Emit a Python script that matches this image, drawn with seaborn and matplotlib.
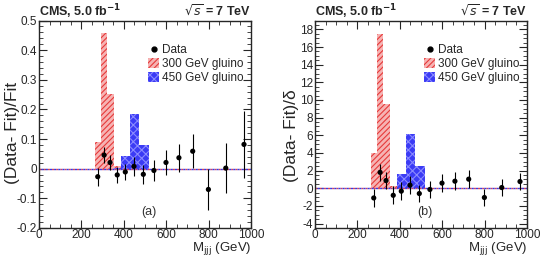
import numpy as np
import matplotlib
matplotlib.use('Agg')
import matplotlib.pyplot as plt
import seaborn as sns
from matplotlib.patches import Patch
from matplotlib.lines import Line2D
from matplotlib.ticker import MultipleLocator, FormatStrFormatter

# bin edges of the three-jet mass spectrum (GeV)
bin_edges = [262, 292, 321, 352, 388, 427, 470, 517, 570, 630, 692, 762, 840, 924, 1010]
data_x = [277, 307, 335, 369, 407, 448, 492, 542, 599, 660, 725, 799, 881, 967]

# panel (a): (Data - Fit)/Fit
data_a = [-0.027, 0.046, 0.021, -0.021, -0.011, 0.008, -0.019, -0.006, 0.021, 0.037, 0.059, -0.070, 0.002, 0.082]
err_a = [0.031, 0.027, 0.025, 0.027, 0.028, 0.031, 0.032, 0.035, 0.041, 0.047, 0.058, 0.068, 0.084, 0.112]
red_a = [0.090, 0.459, 0.253, 0.010, 0.003, 0.0, 0, 0, 0, 0, 0, 0, 0, 0]
blue_a = [0, 0, 0, 0.002, 0.044, 0.186, 0.081, 0.0, 0, 0, 0, 0, 0, 0]

# panel (b): (Data - Fit)/delta
data_b = [-1.1, 1.8, 0.87, -0.8, -0.33, 0.35, -0.6, -0.14, 0.58, 0.8, 1.03, -1.05, 0.08, 0.76]
err_b = [1.0] * 14
red_b = [3.94, 17.5, 9.5, 0.3, 0.1, 0, 0, 0, 0, 0, 0, 0, 0, 0]
blue_b = [0, 0, 0, 0.05, 1.6, 6.2, 2.54, 0.0, 0, 0, 0, 0, 0, 0]

sns.set_style('ticks')
plt.rcParams['font.family'] = ['Liberation Sans', 'DejaVu Sans']
plt.rcParams['hatch.linewidth'] = 0.8

RED_FACE, RED_HATCH = '#f6b3b3', '#e63a3a'
BLUE_FACE, BLUE_HATCH = '#3b3bf5', '#8a8aff'

fig = plt.figure(figsize=(5.52, 2.57), dpi=100)
ax_a = fig.add_axes([0.0707, 0.113, 0.384, 0.807])
ax_b = fig.add_axes([0.5707, 0.113, 0.384, 0.807])

panels = [
    (ax_a, data_a, err_a, red_a, blue_a, (-0.2, 0.5), 0.1, 0.02, '(Data- Fit)/Fit', '(a)', (-0.125, 0.46)),
    (ax_b, data_b, err_b, red_b, blue_b, (-4.5, 19), 2, 0.5, '(Data- Fit)/\u03b4', '(b)', (-0.111, 0.445)),
]

centers = [(bin_edges[i] + bin_edges[i + 1]) / 2 for i in range(len(bin_edges) - 1)]

for ax, dat, err, red, blue, ylim, major, minor, ylab, tag, ylab_pos in panels:
    sns.histplot(x=centers, weights=red, bins=bin_edges, ax=ax, element='bars',
                 facecolor=RED_FACE, edgecolor=RED_HATCH, hatch='//////', linewidth=0,
                 alpha=1)
    sns.histplot(x=centers, weights=blue, bins=bin_edges, ax=ax, element='bars',
                 facecolor=BLUE_FACE, edgecolor=BLUE_HATCH, hatch='xxxx', linewidth=0,
                 alpha=1)
    ax.axhline(0, color='#d04060', ls=(0, (1.5, 1.5)), lw=1.0)
    ax.axhline(0, color='#3a3ae0', ls=(1.5, (1.5, 1.5)), lw=1.0)
    ax.errorbar(data_x, dat, yerr=err, fmt='none', ecolor='black', elinewidth=0.8, capsize=0)
    sns.scatterplot(x=data_x, y=dat, ax=ax, color='black', s=14, edgecolor='none', zorder=5)

    ax.set_xlim(0, 1000)
    ax.set_ylim(*ylim)
    ax.xaxis.set_major_locator(MultipleLocator(200))
    ax.xaxis.set_minor_locator(MultipleLocator(50))
    ax.yaxis.set_major_locator(MultipleLocator(major))
    ax.yaxis.set_minor_locator(MultipleLocator(minor))
    ax.yaxis.set_major_formatter(FormatStrFormatter('%g'))
    ax.tick_params(which='both', direction='in', top=True, right=True, labelsize=8.5)
    ax.tick_params(axis='x', pad=0.8)
    ax.tick_params(axis='y', pad=1.5)
    ax.tick_params(which='major', length=6, width=0.8)
    ax.tick_params(which='minor', length=3, width=0.6)
    for s in ax.spines.values():
        s.set_linewidth(1.0)
    ax.set_ylabel(ylab, fontsize=12.5)
    ax.yaxis.set_label_coords(*ylab_pos)
    ax.yaxis.label.set_verticalalignment('center')
    ax.set_xlabel(r'M$_{\rm jjj}$ (GeV)', fontsize=9.5)
    ax.xaxis.set_label_coords(1.0, -0.113)
    ax.xaxis.label.set_horizontalalignment('right')
    ax.xaxis.label.set_verticalalignment('baseline')
    ax.text(0.52, 0.078, tag, transform=ax.transAxes, ha='center', va='center', fontsize=9,
            color='#333333')
    ax.text(0.0, 1.022, r'CMS, 5.0 fb$^{\mathbf{-1}}$', transform=ax.transAxes, ha='left',
            va='baseline', fontsize=9, fontweight='bold')
    ax.text(1.0, 1.022, r'$\sqrt{s}$ = 7 TeV', transform=ax.transAxes, ha='right',
            va='baseline', fontsize=9, fontweight='bold')

    handles = [
        Line2D([], [], marker='o', color='black', ls='none', markersize=3.5),
        Patch(facecolor=RED_FACE, edgecolor=RED_HATCH, hatch='//////', linewidth=0),
        Patch(facecolor=BLUE_FACE, edgecolor=BLUE_HATCH, hatch='xxxx', linewidth=0),
    ]
    ax.legend(handles, ['Data', '300 GeV gluino', '450 GeV gluino'], loc='upper left',
              bbox_to_anchor=(0.515, 0.885), frameon=False, fontsize=8.5, handlelength=0.9,
              handleheight=0.9, handletextpad=0.25, labelspacing=0.15, borderaxespad=0,
              borderpad=0)

fig.savefig('out.png', dpi=100)
